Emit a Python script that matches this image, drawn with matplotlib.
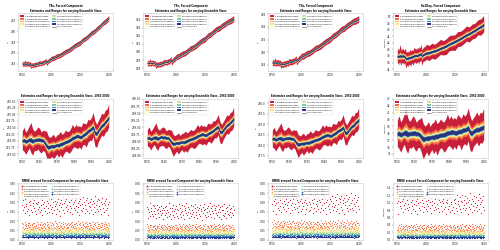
import numpy as np
import matplotlib.pyplot as plt

# Data
years_hist = np.arange(1950, 2001)
years_fut = np.arange(2005, 2101, 5)
years = np.concatenate([years_hist, years_fut])
years_all = np.arange(1950, 2101)

variables = ["TAs", "TSs", "TXs", "Rx1Day"]
units = ["K", "K", "K", "mm/day"]
ens_sizes = [1, 5, 10, 15, 20, 25, 30, 35, 40]

tas_mean = [274.00, 274.02, 273.98, 274.00, 274.03, 274.01, 273.99, 274.02, 274.04, 274.03,
            274.05, 274.03, 274.02, 273.92, 273.80, 273.76, 273.78, 273.80, 273.79, 273.82,
            273.84, 273.83, 273.86, 273.90, 273.92, 273.95, 273.97, 274.02, 274.05, 274.09,
            274.12, 274.16, 274.20, 274.15, 274.14, 274.19, 274.24, 274.30, 274.36, 274.40,
            274.46, 274.50, 274.30, 274.28, 274.38, 274.48, 274.56, 274.62, 274.70, 274.78,
            274.86,
            275.10, 275.35, 275.60, 275.85, 276.15, 276.50, 276.85, 277.20, 277.55, 277.90,
            278.30, 278.70, 279.10, 279.55, 280.00, 280.45, 280.90, 281.40, 281.85, 282.30]

tss_mean = [298.60, 298.62, 298.58, 298.60, 298.62, 298.61, 298.59, 298.62, 298.66, 298.62,
            298.64, 298.62, 298.62, 298.54, 298.44, 298.41, 298.42, 298.44, 298.43, 298.46,
            298.47, 298.46, 298.47, 298.52, 298.54, 298.56, 298.58, 298.62, 298.64, 298.67,
            298.70, 298.73, 298.76, 298.72, 298.71, 298.75, 298.79, 298.84, 298.86, 298.92,
            298.97, 299.00, 298.84, 298.82, 298.90, 298.98, 299.05, 299.10, 299.16, 299.22,
            299.29,
            299.50, 299.70, 299.90, 300.10, 300.35, 300.60, 300.85, 301.10, 301.40, 301.65,
            301.95, 302.20, 302.50, 302.75, 303.00, 303.25, 303.50, 303.70, 303.90, 304.10]

txs_mean = [278.30, 278.32, 278.28, 278.30, 278.33, 278.31, 278.29, 278.32, 278.34, 278.33,
            278.35, 278.33, 278.32, 278.22, 278.09, 278.05, 278.07, 278.09, 278.08, 278.11,
            278.13, 278.12, 278.15, 278.20, 278.22, 278.25, 278.27, 278.32, 278.35, 278.39,
            278.43, 278.47, 278.51, 278.46, 278.45, 278.50, 278.55, 278.62, 278.68, 278.72,
            278.78, 278.83, 278.62, 278.59, 278.70, 278.80, 278.89, 278.95, 279.04, 279.12,
            279.20,
            279.45, 279.70, 279.95, 280.20, 280.50, 280.80, 281.10, 281.40, 281.75, 282.10,
            282.45, 282.80, 283.15, 283.50, 283.85, 284.20, 284.50, 284.80, 285.00, 285.20]

rx1_mean = [37.90, 37.95, 37.85, 37.90, 38.00, 37.95, 37.90, 37.95, 38.00, 37.95,
            38.05, 38.00, 37.95, 37.70, 37.35, 37.20, 37.25, 37.30, 37.30, 37.40,
            37.45, 37.40, 37.50, 37.60, 37.65, 37.70, 37.75, 37.85, 37.90, 38.00,
            38.05, 38.15, 38.25, 38.10, 38.05, 38.15, 38.25, 38.35, 38.45, 38.50,
            38.60, 38.70, 38.20, 38.05, 38.25, 38.40, 38.50, 38.55, 38.65, 38.75,
            38.85,
            39.00, 39.30, 39.60, 39.90, 40.30, 40.70, 41.10, 41.60, 42.00, 42.50,
            42.90, 43.40, 43.90, 44.40, 44.90, 45.40, 45.90, 46.50, 47.00, 47.60]

# half-width of the single-member range, per variable
spread_1 = [0.38, 0.30, 0.42, 2.0]
# relative half-width of the range for each ensemble size
band_frac = [1.0, 0.45, 0.33, 0.27, 0.23, 0.20, 0.17, 0.15, 0.12]

up_mult = [1.0, 1.3, 0.9, 1.1, 1.4, 1.8, 1.2, 0.9, 1.0, 1.3,
           1.1, 0.8, 1.0, 1.2, 1.5, 1.1, 0.9, 1.0, 1.2, 0.8,
           1.0, 1.1, 1.3, 0.9, 1.0, 1.2, 1.0, 0.9, 1.1, 1.4,
           1.0, 1.2, 0.9, 1.1, 1.0, 1.3, 1.1, 0.9, 1.2, 1.0,
           1.1, 1.5, 1.2, 0.9, 1.0, 1.1, 1.3, 1.0, 1.2, 1.1,
           1.4,
           1.1, 1.3, 1.0, 1.2, 1.4, 1.0, 1.1, 1.3, 1.2, 1.0,
           1.3, 1.1, 1.2, 1.4, 1.0, 1.2, 1.1, 1.3, 1.2, 1.4]
lo_mult = [0.9, 1.1, 1.3, 1.0, 0.8, 1.2, 1.4, 1.0, 1.1, 0.9,
           1.2, 1.3, 1.0, 0.9, 1.1, 1.5, 1.2, 1.0, 1.3, 1.1,
           0.9, 1.2, 1.0, 1.4, 1.1, 0.9, 1.0, 1.3, 1.2, 1.0,
           0.9, 1.1, 1.3, 1.0, 1.2, 0.9, 1.0, 1.4, 1.1, 1.0,
           1.2, 0.9, 1.3, 1.4, 1.1, 1.0, 0.9, 1.2, 1.0, 1.1,
           0.9,
           1.2, 1.0, 1.3, 1.1, 0.9, 1.2, 1.3, 1.0, 1.1, 1.4,
           1.0, 1.2, 1.1, 0.9, 1.3, 1.1, 1.2, 1.0, 1.3, 1.1]

# RMSE level per ensemble size
rmse_level = [
    [0.180, 0.075, 0.055, 0.045, 0.038, 0.033, 0.028, 0.022, 0.014],
    [0.150, 0.065, 0.047, 0.038, 0.032, 0.028, 0.024, 0.019, 0.012],
    [0.190, 0.080, 0.058, 0.047, 0.040, 0.034, 0.029, 0.023, 0.015],
    [0.950, 0.320, 0.220, 0.180, 0.150, 0.130, 0.110, 0.090, 0.060],
]
# year-to-year deviation of RMSE (percent)
rmse_dev = [5, -12, 18, -3, 22, -20, 8, 0, -15, 30, -7, 12, -25, 4, 15, -10, 26, -18, 2, 9,
            -5, 20, -14, 11, -22, 6, 28, -9, 14, -1, -17, 24, 3, -11, 19, -26, 7, 13, -6, 33,
            -13, 1, 16, -21, 10, -4, 25, -16, 5, -8, 21, -2, -19, 12, 29, -12, 0, 17, -24, 8,
            14, -7, 23, -15, 3, 11, -28, 18, -3, 6, 27, -11, 9, -20, 15, -1, 22, -14, 4, 31,
            -9, 12, -17, 2, 19, -6, 26, -23, 7, 13, -4, 20, -12, 0, 24, -18, 10, -2, 16, -27,
            5, 21, -10, 8, -15, 28, -5, 13, -21, 3, 18, -8, 25, -13, 9, 1, -19, 14, -3, 22,
            -11, 6, 17, -24, 11, -1, 30, -16, 4, 15, -7, 23, -14, 2, 19, -9, 12, -22, 7, 26,
            -4, 10, -18, 16, 3, -12, 21, -6, 8, -26, 13]

means = [tas_mean, tss_mean, txs_mean, rx1_mean]

colors = ['#c8203a', '#f46d43', '#fdae61', '#fee08b', '#fbf8b0',
          '#c7e89b', '#7fcdaa', '#3a7fbf', '#27338a']

mid_ylim = [(273.35, 275.58), (297.9, 300.0), (277.4, 280.2), (34.4, 43.0)]
rmse_ylim = [(-0.002, 0.305), (-0.002, 0.305), (-0.002, 0.305), (-0.01, 1.53)]

plt.rcParams['font.family'] = 'DejaVu Sans'
fig = plt.figure(figsize=(20, 10), dpi=25)

lefts = [0.036, 0.286, 0.536, 0.786]
rows = [(0.716, 0.232), (0.368, 0.236), (0.04, 0.228)]

leg_kw = dict(loc='upper left', ncol=2, fontsize=6.3, frameon=True, edgecolor='#cccccc',
              columnspacing=0.8, labelspacing=0.5, borderpad=0.6, handletextpad=0.5)


def style(ax):
    for s in ax.spines.values():
        s.set_color('#c8c8c8')
        s.set_linewidth(1.5)
    ax.tick_params(labelsize=8, length=3, width=1, colors='#222222')


def draw_bands(ax, x, mean, spread, up, lo):
    for k, n in enumerate(ens_sizes):
        ax.fill_between(x, mean - spread * band_frac[k] * lo,
                        mean + spread * band_frac[k] * up,
                        color=colors[k], lw=0, label=f"{n} Ensemble members")
    ax.plot(x, mean, color='#3a3a3a', lw=1.5, label="Full ensemble")


for i, var in enumerate(variables):
    mean = np.array(means[i])
    up = np.array(up_mult)
    lo = np.array(lo_mult)

    # top row: full period
    ax = fig.add_axes([lefts[i], rows[0][0], 0.19, rows[0][1]])
    draw_bands(ax, years, mean, spread_1[i], up, lo)
    ax.set_xticks([1950, 2000, 2050, 2100])
    ax.set_title(f"{var}, Forced Component\nEstimates and Ranges for varying Ensemble Sizes",
                 fontsize=7.2, fontweight='bold', pad=3, linespacing=1.2)
    ax.set_ylabel(units[i], fontsize=7)
    ax.legend(handlelength=1.8, **leg_kw)
    style(ax)

    # middle row: 1950-2000
    n = len(years_hist)
    ax = fig.add_axes([lefts[i], rows[1][0], 0.19, rows[1][1]])
    draw_bands(ax, years[:n], mean[:n], spread_1[i], up[:n], lo[:n])
    ax.set_xticks([1950, 1960, 1970, 1980, 1990, 2000])
    ax.set_ylim(*mid_ylim[i])
    ax.set_title("Estimates and Ranges for varying Ensemble Sizes, 1950-2000",
                 fontsize=7.2, fontweight='bold', pad=5)
    ax.set_ylabel(units[i], fontsize=7)
    ax.legend(handlelength=1.8, **leg_kw)
    style(ax)

    # bottom row: RMSE scatter
    ax = fig.add_axes([lefts[i], rows[2][0], 0.19, rows[2][1]])
    dev = np.array(rmse_dev) / 100.0
    for k, ne in enumerate(ens_sizes):
        vals = rmse_level[i][k] * (1 + np.roll(dev, 17 * k + 29 * i))
        ax.scatter(years_all, vals, s=12, color=colors[k], lw=0,
                   label=f"{ne} Ensemble members")
    ax.set_xticks([1950, 2000, 2050, 2100])
    ax.set_ylim(*rmse_ylim[i])
    ax.set_title("RMSE around Forced Component for varying Ensemble Sizes",
                 fontsize=7.2, fontweight='bold', pad=4)
    ax.set_ylabel(units[i], fontsize=7)
    ax.legend(handlelength=1.2, markerscale=1.5, **leg_kw)
    style(ax)

fig.savefig("out.png", dpi=25)
